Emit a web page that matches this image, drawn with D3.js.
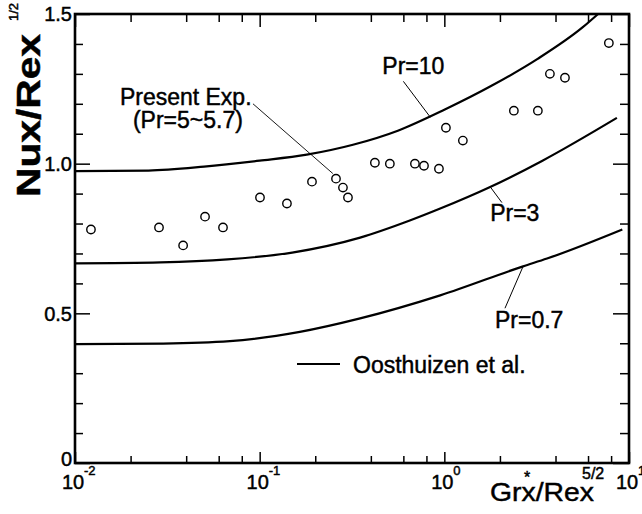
<!DOCTYPE html>
<html>
<head>
<meta charset="utf-8">
<script src="https://cdn.jsdelivr.net/npm/d3@7"></script>
<style>
  body { margin: 0; background: #fff; }
  svg { display: block; }
  text { font-family: "Liberation Sans", Arial, Helvetica, sans-serif; fill: #000; stroke: #000; stroke-width: 0.45px; }
</style>
</head>
<body>
<svg id="chart" width="642" height="514"></svg>
<script>
// Oosthuizen et al. correlation, Nux/Rex^1/2 against Grx*/Rex^5/2
const pr10X = [0.01, 0.025, 0.05, 0.1, 0.18, 0.32, 0.56, 1.0, 1.8, 3.2, 5.6, 6.8];
const pr10Y = [0.975, 0.977, 0.99, 1.01, 1.03, 1.063, 1.11, 1.18, 1.26, 1.35, 1.455, 1.5];

const pr3X = [0.01, 0.029, 0.067, 0.15, 0.35, 0.65, 0.95, 1.77, 3.4, 8.6];
const pr3Y = [0.667, 0.670, 0.68, 0.703, 0.753, 0.81, 0.85, 0.922, 1.01, 1.153];

const pr07X = [0.01, 0.03, 0.069, 0.165, 0.35, 0.95, 2.67, 3.6, 9.2];
const pr07Y = [0.397, 0.399, 0.407, 0.438, 0.483, 0.56, 0.657, 0.683, 0.78];

// Present experiment (Pr = 5 ~ 5.7)
const expX = [0.0122, 0.0285, 0.0385, 0.0506, 0.0633, 0.1004, 0.1405, 0.192, 0.259, 0.2825,
              0.3007, 0.4207, 0.507, 0.693, 0.776, 0.935, 1.02, 1.26, 2.38, 3.21, 3.73, 4.50, 7.78];
const expY = [0.780, 0.787, 0.727, 0.823, 0.787, 0.887, 0.867, 0.940, 0.950, 0.920,
              0.887, 1.003, 1.000, 1.000, 0.993, 0.983, 1.120, 1.077, 1.177, 1.177, 1.300, 1.287, 1.403];

const xMajorTicks = [0.01, 0.1, 1, 10];
const xTickExponents = ["-2", "-1", "0", "1"];
const xMinorTicks = [2, 4, 6, 8].flatMap(m => [0.01, 0.1, 1].map(d => m * d));
const yMajorTicks = [0, 0.5, 1.0, 1.5];
const yTickLabels = ["0", "0.5", "1.0", "1.5"];
const yMinorTicks = d3.range(1, 15).map(i => i / 10).filter(v => Math.abs(v - 0.5) > 1e-6 && Math.abs(v - 1.0) > 1e-6);

const curveNames = ["Pr=10", "Pr=3", "Pr=0.7"];

const svg = d3.select("#chart");
const L = 75, R = 629, T = 14, B = 463;

const x = d3.scaleLog().domain([0.01, 10]).range([L, R]);
const y = d3.scaleLinear().domain([0, 1.5]).range([B, T]);

// plot frame
svg.append("rect")
  .attr("x", L).attr("y", T).attr("width", R - L).attr("height", B - T)
  .attr("fill", "none").attr("stroke", "#000").attr("stroke-width", 2.6);

// inward ticks on all four sides
function tickAxis(axis, values, size, tx, ty) {
  const g = svg.append("g")
    .attr("transform", `translate(${tx},${ty})`)
    .call(axis.tickValues(values).tickSize(size).tickFormat(""));
  g.select(".domain").remove();
  g.selectAll(".tick line").attr("stroke", "#000").attr("stroke-width", 1.5);
}
tickAxis(d3.axisBottom(x), xMajorTicks, -11, 0, B);
tickAxis(d3.axisBottom(x), xMinorTicks, -7, 0, B);
tickAxis(d3.axisTop(x), xMajorTicks, -13, 0, T);
tickAxis(d3.axisTop(x), xMinorTicks, -8, 0, T);
tickAxis(d3.axisLeft(y), yMajorTicks, -15, L, 0);
tickAxis(d3.axisLeft(y), yMinorTicks, -8, L, 0);
tickAxis(d3.axisRight(y), yMajorTicks, -16, R, 0);
tickAxis(d3.axisRight(y), yMinorTicks, -9, R, 0);

// x tick labels: 10 with superscript exponent
const xl = svg.append("g");
xMajorTicks.forEach((v, i) => {
  xl.append("text").attr("x", x(v) - 2).attr("y", 489)
    .attr("text-anchor", "middle").attr("font-size", 20).text("10");
  xl.append("text").attr("x", x(v) + 9).attr("y", 475)
    .attr("font-size", 13).text(xTickExponents[i]);
});

// y tick labels (the zero sits a little higher, clear of the 10^-2 label)
svg.append("g").selectAll("text").data(yMajorTicks).join("text")
  .attr("x", L - 3).attr("y", d => y(d) - (d === 0 ? 4 : 0)).attr("dy", "0.36em")
  .attr("text-anchor", "end").attr("font-size", 20)
  .text((d, i) => yTickLabels[i]);

// correlation curves
const line = d3.line().x(d => x(d[0])).y(d => y(d[1])).curve(d3.curveMonotoneX);
const curves = [d3.zip(pr10X, pr10Y), d3.zip(pr3X, pr3Y), d3.zip(pr07X, pr07Y)];
svg.append("g").selectAll("path").data(curves).join("path")
  .attr("d", line).attr("fill", "none").attr("stroke", "#000").attr("stroke-width", 2.2);

// experimental points
svg.append("g").selectAll("circle").data(d3.zip(expX, expY)).join("circle")
  .attr("cx", d => x(d[0])).attr("cy", d => y(d[1])).attr("r", 4.2)
  .attr("fill", "#fff").attr("stroke", "#000").attr("stroke-width", 1.4);

// curve annotations with leader lines (data coordinates)
const notes = [
  { text: curveNames[0], tx: 1.0, ty: 1.300, anchor: "end", from: [0.6, 1.275], to: [0.84, 1.155] },
  { text: curveNames[1], tx: 1.77, ty: 0.807, anchor: "start", from: [1.77, 0.923], to: [2.05, 0.87] },
  { text: curveNames[2], tx: 1.88, ty: 0.450, anchor: "start", from: [2.67, 0.657], to: [2.13, 0.517] }
];
const ng = svg.append("g");
notes.forEach(n => {
  ng.append("line")
    .attr("x1", x(n.from[0])).attr("y1", y(n.from[1]))
    .attr("x2", x(n.to[0])).attr("y2", y(n.to[1]))
    .attr("stroke", "#000").attr("stroke-width", 1);
  ng.append("text").attr("x", x(n.tx)).attr("y", y(n.ty))
    .attr("text-anchor", n.anchor).attr("font-size", 23).text(n.text);
});

// experiment label
ng.append("line")
  .attr("x1", x(0.092)).attr("y1", y(1.2))
  .attr("x2", x(0.249)).attr("y2", y(0.967))
  .attr("stroke", "#000").attr("stroke-width", 0.9);
ng.append("text").attr("x", x(0.0175)).attr("y", y(1.197)).attr("font-size", 23).text("Present Exp.");
ng.append("text").attr("x", x(0.0206)).attr("y", y(1.12)).attr("font-size", 23).text("(Pr=5~5.7)");

// legend
const lg = svg.append("g");
lg.append("line").attr("x1", 297).attr("x2", 340).attr("y1", 364).attr("y2", 364)
  .attr("stroke", "#000").attr("stroke-width", 2);
lg.append("text").attr("x", 353).attr("y", 373).attr("font-size", 23).text("Oosthuizen et al.");

// axis titles
svg.append("text")
  .attr("transform", "translate(40,197) rotate(-90)")
  .attr("font-size", 33).attr("font-weight", "bold")
  .attr("textLength", 163).attr("lengthAdjust", "spacingAndGlyphs")
  .text("Nux/Rex");
svg.append("text")
  .attr("transform", "translate(18,21) rotate(-90)")
  .attr("font-size", 13).text("1/2");

svg.append("text").attr("x", 490).attr("y", 501)
  .attr("font-size", 26).attr("textLength", 104).attr("lengthAdjust", "spacingAndGlyphs")
  .text("Grx/Rex");
svg.append("text").attr("x", 527).attr("y", 483).attr("text-anchor", "middle")
  .attr("font-size", 16).text("*");
svg.append("text").attr("x", 582).attr("y", 479).attr("font-size", 16).text("5/2");
</script>
</body>
</html>
